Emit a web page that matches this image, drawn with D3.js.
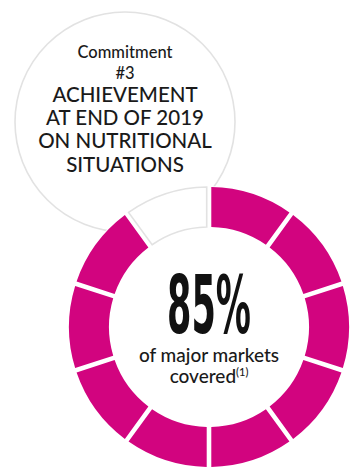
<!DOCTYPE html>
<html>
<head>
<meta charset="utf-8">
<script src="https://cdn.jsdelivr.net/npm/d3@7"></script>
<style>
  html, body { margin: 0; padding: 0; background: #fff; }
  svg { display: block; }
</style>
</head>
<body>
<div id="chart"></div>
<script>
// Chart data
const segmentFilled = [1, 1, 1, 1, 1, 1, 1, 1, 1, 0]; // 10 ring segments, clockwise from top
const headline = "85%";
const subtitleLines = ["of major markets", "covered"];
const footnoteMark = "(1)";
const titleSmall = ["Commitment", "#3"];
const titleBig = ["ACHIEVEMENT", "AT END OF 2019", "ON NUTRITIONAL", "SITUATIONS"];

// Dimensions
const width = 350;
const height = 470;
const bubble = { cx: 125, cy: 122, r: 110 };
const ring = { cx: 209, cy: 327, outer: 140, inner: 100 };
const pink = "#d2047f";
const outline = "#e2e2e2";
const textFont = "Lato, 'Open Sans', sans-serif";

const svg = d3.select("#chart").append("svg")
    .attr("width", width)
    .attr("height", height);

// Title bubble
svg.append("circle")
    .attr("cx", bubble.cx)
    .attr("cy", bubble.cy)
    .attr("r", bubble.r)
    .attr("fill", "#fff")
    .attr("stroke", outline)
    .attr("stroke-width", 1.6);

const title = svg.append("g")
    .attr("font-family", textFont)
    .attr("fill", "#1a1a1a")
    .attr("text-anchor", "middle");

title.selectAll("text.small")
    .data(titleSmall)
    .join("text")
    .attr("class", "small")
    .attr("x", bubble.cx)
    .attr("y", (d, i) => 58 + i * 20.5)
    .attr("font-size", 16.5)
    .attr("font-weight", 500)
    .text(d => d);

title.selectAll("text.big")
    .data(titleBig)
    .join("text")
    .attr("class", "big")
    .attr("x", bubble.cx)
    .attr("y", (d, i) => 101.5 + i * 23.4)
    .attr("font-size", 20.5)
    .attr("font-weight", 500)
    .text(d => d);

// Ring
const g = svg.append("g")
    .attr("transform", `translate(${ring.cx},${ring.cy})`);

// white disc hides the lower part of the bubble
g.append("circle")
    .attr("r", ring.outer + 1)
    .attr("fill", "#fff");

const pie = d3.pie()
    .value(1)
    .sort(null);

const arc = d3.arc()
    .innerRadius(ring.inner)
    .outerRadius(ring.outer)
    .padRadius(120)
    .padAngle(4.6 / 120);

g.selectAll("path")
    .data(pie(segmentFilled))
    .join("path")
    .attr("d", arc)
    .attr("fill", d => d.data ? pink : "#fff")
    .attr("stroke", d => d.data ? "none" : outline)
    .attr("stroke-width", 1.6);

// Centre label
g.append("text")
    .attr("x", 0)
    .attr("y", 6)
    .attr("text-anchor", "middle")
    .attr("font-family", "'Liberation Sans Narrow', 'DejaVu Sans Condensed', sans-serif")
    .attr("font-size", 80)
    .attr("font-weight", "bold")
    .attr("fill", "#111")
    .attr("textLength", 84)
    .attr("lengthAdjust", "spacingAndGlyphs")
    .text(headline);

const sub = g.append("g")
    .attr("font-family", textFont)
    .attr("font-size", 19)
    .attr("font-weight", 500)
    .attr("fill", "#1a1a1a")
    .attr("text-anchor", "middle");

sub.append("text")
    .attr("y", 35)
    .text(subtitleLines[0]);

const last = sub.append("text")
    .attr("y", 56);
last.append("tspan").text(subtitleLines[1]);
last.append("tspan")
    .attr("font-size", 11)
    .attr("dy", -7)
    .text(footnoteMark);
</script>
</body>
</html>
